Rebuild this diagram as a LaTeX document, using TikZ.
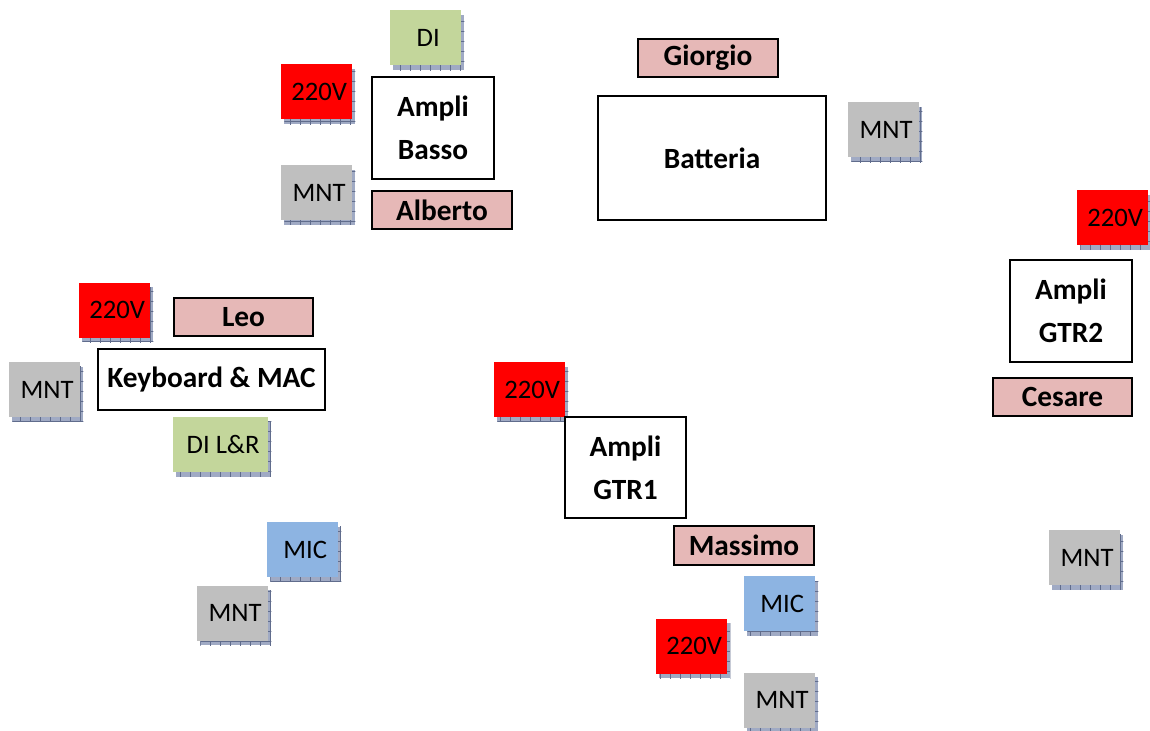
\documentclass[tikz,border=0pt]{standalone}
\usepackage{fontspec}
\setmainfont{Carlito}
\usepackage{tikz}
\usetikzlibrary{
  shadows,
  patterns.meta,
  positioning
}
\usepackage{xcolor}
\definecolor{cred}{RGB}{255,0,0}
\definecolor{cgreen}{RGB}{195,214,155}
\definecolor{cblue}{RGB}{141,180,226}
\definecolor{cgray}{RGB}{191,191,191}
\definecolor{cpink}{RGB}{230,184,183}
\definecolor{cshade}{RGB}{160,170,196}
\definecolor{cshadeD}{RGB}{96,108,140}
\tikzset{
  tag/.style={
    rectangle, inner sep=0pt,
    minimum width=53.25pt, minimum height=41.25pt,
    font=\fontsize{20}{23}\selectfont,
    execute at begin node=\hspace*{4pt},
    drop shadow={shadow xshift=2.6pt, shadow yshift=-3.4pt,
                 fill=cshade, opacity=1,
                 postaction={pattern={Hatch[distance=7.5pt, angle=0,
                   line width=0.6pt]}, pattern color=cshadeD}}
  },
  plug/.style={tag, fill=cred},
  monitor/.style={tag, fill=cgray},
  mic/.style={tag, fill=cblue},
  dibox/.style={tag, fill=cgreen},
  player/.style={
    rectangle, fill=cpink, draw=black, line width=1.5pt,
    minimum width=104.6pt, minimum height=28.9pt, inner sep=0pt,
    font=\fontsize{22}{32}\selectfont\bfseries
  },
  amp/.style={
    rectangle, fill=white, draw=black, line width=1.5pt,
    minimum width=91.1pt, minimum height=76.1pt, inner sep=0pt,
    font=\fontsize{22}{32}\selectfont\bfseries, align=center
  }
}
\begin{document}
\begin{tikzpicture}[x=0.75pt, y=-0.75pt]
    \useasboundingbox (0,0) rectangle (1150,731);

    %% ---- Basso ------------------------------------------------------
    \node[dibox]   (diB)  at (425.5,38)  {DI};
    \node[plug]    (pwB)  at (316.5,92)  {220V};
    \node[monitor] (mntB) at (316.5,192.5) {MNT};
    \node[amp]     (ampB) at (433,128)   {Ampli\\Basso};
    \node[player]  (alb)  at (442,210)   {Alberto};

    %% ---- Batteria ---------------------------------------------------
    \node[player]  (gio)  at (708,58)    {Giorgio};
    \node[amp, minimum width=171.4pt, minimum height=93.4pt]
      (drum) at (712,158) {Batteria};
    \node[monitor] (mntD) at (883.5,130) {MNT};

    %% ---- Chitarra 2 -------------------------------------------------
    \node[plug]    (pwG2) at (1112.5,217.5) {220V};
    \node[amp]     (ampG2) at (1071,311) {Ampli\\GTR2};
    \node[player]  (ces)  at (1062.5,397) {Cesare};
    \node[monitor] (mntG2) at (1084.5,557.5) {MNT};

    %% ---- Tastiere ---------------------------------------------------
    \node[plug]    (pwK)  at (114.5,310) {220V};
    \node[player]  (leo)  at (243.5,317) {Leo};
    \node[amp, minimum width=170.6pt, minimum height=46.1pt]
      (keys) at (211.5,379.5) {Keyboard \& MAC};
    \node[monitor] (mntK) at (44.5,389.5) {MNT};
    \node[dibox, minimum width=71.25pt] (diK) at (220.5,444.5) {DI L\&R};
    \node[mic]     (micK) at (302.5,549.5) {MIC};
    \node[monitor] (mntV) at (232.5,613) {MNT};

    %% ---- Chitarra 1 -------------------------------------------------
    \node[plug]    (pwG1) at (529.5,389.5) {220V};
    \node[amp]     (ampG1) at (625.5,467.5) {Ampli\\GTR1};
    \node[player]  (mas)  at (744,545.5) {Massimo};
    \node[mic]     (micM) at (779.5,603.5) {MIC};
    \node[plug]    (pwM)  at (691.5,646) {220V};
    \node[monitor] (mntM) at (779.5,700) {MNT};

  \end{tikzpicture}
\end{document}
